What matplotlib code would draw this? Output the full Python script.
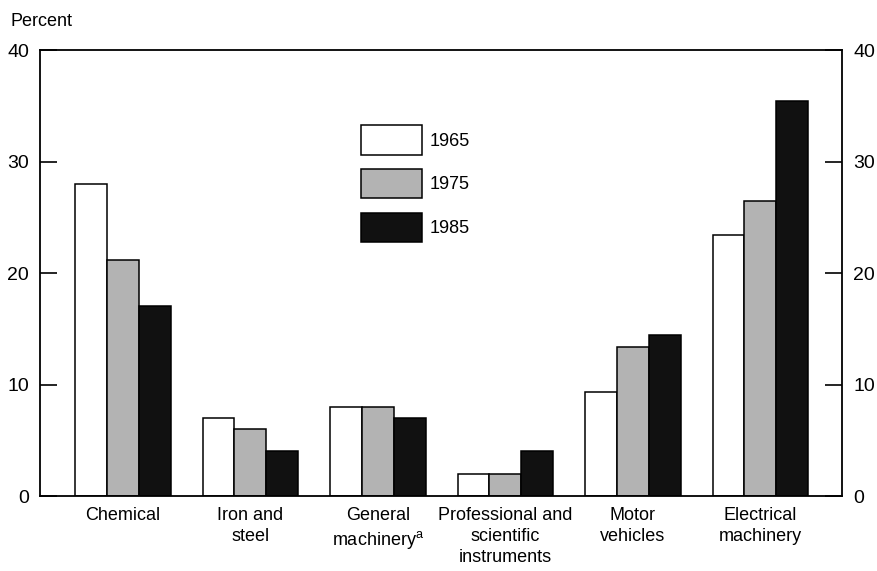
import matplotlib
matplotlib.use("Agg")
import matplotlib.pyplot as plt
import numpy as np

plt.rcParams['font.family'] = ['Liberation Sans Narrow', 'Liberation Sans', 'DejaVu Sans']

categories = ["Chemical", "Iron and\nsteel", "General\nmachinery$^\\mathregular{a}$",
              "Professional and\nscientific\ninstruments", "Motor\nvehicles", "Electrical\nmachinery"]
years = ["1965", "1975", "1985"]
v1965 = [28, 7, 8, 2, 9.3, 23.4]
v1975 = [21.2, 6, 8, 2, 13.4, 26.5]
v1985 = [17, 4, 7, 4, 14.4, 35.4]
yticks = [0, 10, 20, 30, 40]

colors = ["white", "#b3b3b3", "#111111"]

fig = plt.figure(figsize=(8.77, 5.71), dpi=100)
ax = fig.add_axes([0.0456, 0.1313, 0.9145, 0.7811])

x = np.arange(len(categories))
w = 0.25
for i, (vals, c, lab) in enumerate(zip([v1965, v1975, v1985], colors, years)):
    ax.bar(x + (i - 1) * w, vals, width=w, color=c, edgecolor="black", linewidth=1.1, label=lab)

ax.set_xlim(-0.65, 5.64)
ax.set_ylim(0, 40)
ax.set_yticks(yticks)
ax.set_xticks(x)
ax.set_xticklabels(categories, fontsize=13, linespacing=1.3)
ax.tick_params(axis='x', length=0, pad=8)
ax.tick_params(axis='y', direction='in', length=12, width=1.2, labelsize=14, pad=8,
               right=True, labelright=True)
for s in ax.spines.values():
    s.set_linewidth(1.3)

fig.text(10 / 877, 1 - 22 / 571, "Percent", fontsize=13, ha='left', va='center')

leg = ax.legend(loc='upper left', bbox_to_anchor=((361 - 40) / 802, (496 - 125) / 446),
                frameon=False, fontsize=13, handlelength=3.4, handleheight=2.15,
                labelspacing=0.78, handletextpad=0.4, borderpad=0, borderaxespad=0)

fig.savefig("out.png", dpi=100)
